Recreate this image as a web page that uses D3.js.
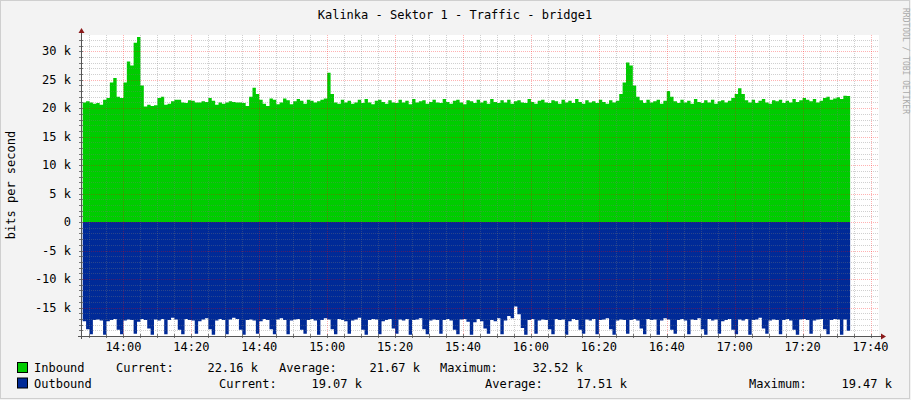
<!DOCTYPE html>
<html><head><meta charset="utf-8">
<script src="https://cdn.jsdelivr.net/npm/d3@7"></script>
<style>body{margin:0;background:#f3f3f3}text{font-family:"DejaVu Sans Mono",monospace;fill:#000}</style>
</head><body><svg width="911" height="400"></svg>
<script>
// one value per minute, starting 13:48, in k bits/s
const inbound = [
  21,21.2,21,20.8,20.9,20.6,21.5,21.8,24.5,25.3,
  22,21.8,24.5,28.2,27.5,31.5,32.5,24,20.3,20.6,
  20.4,20.5,21.8,22,20.6,20.8,21.2,21.5,21.5,21,
  20.9,21.4,21.3,21,21,21.2,21.1,21.8,21.3,20.6,
  21,20.8,21,21.2,21.1,21,21,20.9,20.4,22,
  23.6,22.5,21.5,20.8,20.4,21.7,21.5,20.7,21,21.7,
  21.4,20.7,21.2,21.6,21.3,20.8,21.5,21.3,21,21.2,
  21.5,21.7,26.2,22.5,21,20.8,21.5,21,21.3,20.8,
  21,21.5,20.9,21.6,21,20.7,21.3,21.5,21.1,20.8,
  21.4,21,20.9,21.5,21,21.3,20.7,21.6,21,21.2,
  21.4,20.8,21.1,21.5,21,20.9,21.6,21.1,20.8,21.3,
  21.5,21,20.7,21.4,21.2,20.9,21.5,21,21.3,20.8,
  21.6,21.1,20.9,21.4,21,21.5,20.8,21.2,21.4,21,
  20.9,21.6,21.1,20.8,21.3,21.5,21,20.9,21.4,21.2,
  20.8,21.5,21,21.3,20.9,21.6,21.1,20.8,21.4,21,
  21.2,20.9,21.5,21.1,20.8,21.4,21,21.3,22.5,24.5,
  28,27.5,24,22,21.4,20.9,21.5,21,21.2,21.5,
  20.8,21.3,23,22,21.2,20.9,21.5,21,21.3,20.8,
  21.6,21.1,20.9,21.4,21,21.5,20.8,21.2,21.4,21,
  21.3,21.8,22.5,23.5,22.5,21.4,21,21.5,20.9,21.3,
  21.6,21,20.8,21.4,21.2,21.5,20.9,21.3,21,21.6,
  21.1,21.4,21.8,21.5,21.2,21.6,21,21.3,21.8,22,
  21.5,21.7,21.9,21.6,22.2,22.16
];
const outbound = [
  -17.4,-18.8,-19.7,-17.2,-17.1,-17.3,-19.8,-17.4,-17.2,-17.0,
  -18.9,-19.7,-17.3,-17.1,-17.2,-19.6,-17.5,-17.0,-17.2,-18.7,
  -19.8,-17.1,-17.3,-17.0,-19.7,-17.2,-16.8,-17.1,-18.9,-19.7,
  -17.0,-17.2,-17.3,-19.6,-17.4,-17.1,-16.9,-18.8,-19.8,-17.3,
  -17.0,-17.2,-19.7,-17.1,-16.8,-17.0,-18.9,-19.8,-17.2,-17.1,
  -17.3,-19.6,-17.4,-17.0,-17.2,-18.8,-19.7,-17.1,-16.9,-17.2,
  -19.7,-17.3,-17.1,-17.0,-18.9,-19.6,-17.2,-17.0,-17.3,-19.8,
  -17.2,-16.9,-17.1,-18.8,-19.7,-17.0,-17.2,-17.4,-19.6,-17.3,
  -17.1,-16.8,-18.9,-19.8,-17.2,-17.0,-17.1,-19.7,-17.4,-17.2,
  -17.0,-18.7,-19.6,-17.1,-17.3,-17.0,-19.8,-17.2,-17.1,-16.9,
  -18.8,-19.7,-17.3,-17.1,-17.2,-19.6,-17.2,-17.0,-17.3,-18.9,
  -19.7,-17.1,-17.0,-17.5,-19.8,-17.6,-17.0,-17.4,-18.7,-19.6,
  -17.2,-17.4,-16.9,-19.7,-17.3,-16.5,-16.9,-14.8,-16.2,-18.6,
  -19.8,-17.2,-17.0,-19.6,-17.3,-17.1,-17.2,-18.8,-19.7,-17.0,
  -17.2,-17.1,-19.8,-17.4,-17.0,-17.2,-18.9,-19.6,-17.1,-17.3,
  -17.0,-19.7,-17.2,-17.1,-16.9,-18.8,-19.8,-17.3,-17.1,-17.2,
  -19.6,-17.2,-17.0,-17.3,-18.7,-19.7,-17.0,-17.2,-17.1,-19.8,
  -17.3,-16.9,-17.1,-18.9,-19.6,-17.2,-17.0,-17.3,-19.7,-17.1,
  -17.2,-16.9,-18.8,-19.8,-17.0,-17.3,-17.1,-19.6,-17.4,-17.2,
  -17.0,-18.9,-19.7,-17.1,-17.3,-17.0,-19.8,-17.2,-17.1,-16.8,
  -18.7,-19.6,-17.3,-17.1,-17.2,-19.7,-17.2,-17.0,-17.3,-18.9,
  -19.8,-17.1,-17.0,-17.2,-19.6,-17.3,-17.1,-17.0,-18.8,-19.7,
  -17.2,-17.0,-17.1,-19.8,-17.1,-19.07
];
const yTicks = [-15, -10, -5, 0, 5, 10, 15, 20, 25, 30];
const legendRows = [
  { name: 'Inbound', color: '#00cc00', cur: '22.16 k', avg: '21.67 k', max: '32.52 k' },
  { name: 'Outbound', color: '#002a97', cur: '19.07 k', avg: '17.51 k', max: '19.47 k' },
];

const svg = d3.select('svg');
const pL = 81, pR = 879, pT = 35, pB = 336;
const t0 = new Date(2020, 0, 1, 13, 47, 30);
const t1 = new Date(2020, 0, 1, 17, 42, 30);
const x = d3.scaleTime().domain([t0, t1]).range([pL, pR]);
const y = d3.scaleLinear().domain([-20, 32.85]).range([pB, pT]);
const timeAt = i => new Date(2020, 0, 1, 13, 48 + i);

svg.append('rect').attr('x', 0.5).attr('y', 0.5).attr('width', 909).attr('height', 398)
  .attr('fill', '#f3f3f3').attr('stroke', '#cfcfcf');
svg.append('rect').attr('x', pL).attr('y', pT).attr('width', pR - pL).attr('height', pB - pT).attr('fill', '#fff');

// areas
const area = d3.area().curve(d3.curveStepAfter)
  .x((d, i) => x(timeAt(i))).y0(y(0)).y1(d => y(d));
svg.append('clipPath').attr('id', 'c').append('rect')
  .attr('x', pL).attr('y', pT - 5).attr('width', pR - pL).attr('height', pB - pT + 5);
svg.append('path').datum(inbound.concat([inbound[inbound.length - 1]])).attr('d', area)
  .attr('fill', '#00cc00').attr('clip-path', 'url(#c)');
svg.append('path').datum(outbound.concat([outbound[outbound.length - 1]])).attr('d', area)
  .attr('fill', '#002a97').attr('clip-path', 'url(#c)');

// grid
const g = svg.append('g');
d3.range(-19, 33).forEach(v => {
  const major = v % 5 === 0;
  const yy = Math.round(y(v)) + 0.5;
  g.append('line').attr('x1', pL).attr('x2', pR).attr('y1', yy).attr('y2', yy)
    .attr('stroke', major ? 'rgba(255,0,0,0.3)' : 'rgba(120,120,120,0.35)').attr('stroke-dasharray', '1,1');
  g.append('line').attr('x1', pL - 2).attr('x2', pL + 2).attr('y1', yy).attr('y2', yy).attr('stroke', '#777');
});
x.ticks(d3.timeMinute.every(5)).forEach(t => {
  const major = t.getMinutes() % 20 === 0;
  const xx = Math.round(x(t)) + 0.5;
  g.append('line').attr('x1', xx).attr('x2', xx).attr('y1', pT).attr('y2', pB)
    .attr('stroke', major ? 'rgba(255,0,0,0.3)' : 'rgba(120,120,120,0.35)').attr('stroke-dasharray', '1,1');
  g.append('line').attr('x1', xx).attr('x2', xx).attr('y1', pB - 2).attr('y2', pB + 2).attr('stroke', '#777');
});

// axes
svg.append('line').attr('x1', pL + 0.5).attr('x2', pL + 0.5).attr('y1', pT - 4).attr('y2', pB + 3).attr('stroke', '#555');
svg.append('line').attr('x1', pL - 3).attr('x2', pR + 3).attr('y1', pB + 0.5).attr('y2', pB + 0.5).attr('stroke', '#555');
svg.append('path').attr('d', `M${pL - 2.5},${pT - 2}L${pL + 3.5},${pT - 2}L${pL + 0.5},${pT - 7}Z`).attr('fill', '#8b1a1a');
svg.append('path').attr('d', `M${pR + 2},${pB - 2.5}L${pR + 2},${pB + 3.5}L${pR + 7},${pB + 0.5}Z`).attr('fill', '#8b1a1a');

yTicks.forEach(v => {
  svg.append('text').attr('x', 71).attr('y', y(v) + 4).attr('text-anchor', 'end').attr('font-size', 12)
    .text(v === 0 ? '0' : `${v} k`);
});
x.ticks(d3.timeMinute.every(20)).forEach(t => {
  svg.append('text').attr('x', x(t)).attr('y', 351).attr('text-anchor', 'middle').attr('font-size', 12)
    .text(d3.timeFormat('%H:%M')(t));
});

svg.append('text').attr('x', 455).attr('y', 19).attr('text-anchor', 'middle').attr('font-size', 12)
  .text('Kalinka - Sektor 1 - Traffic - bridge1');
svg.append('text').attr('transform', 'translate(15,185) rotate(-90)').attr('text-anchor', 'middle').attr('font-size', 12)
  .text('bits per second');
svg.append('text').attr('transform', 'translate(903,8) rotate(90)').attr('font-size', 8).style('fill', '#aaa')
  .text('RRDTOOL / TOBI OETIKER');

// legend
const cols = [
  { cur: 116, curV: 258, avg: 279, avgV: 420, max: 440, maxV: 583 },
  { cur: 219, curV: 362, avg: 485, avgV: 627, max: 749, maxV: 892 },
];
legendRows.forEach((r, i) => {
  const yy = 372 + i * 15.5;
  const c = cols[i];
  svg.append('rect').attr('x', 17.5).attr('y', yy - 9.5).attr('width', 10).attr('height', 10)
    .attr('fill', r.color).attr('stroke', '#000');
  svg.append('text').attr('x', 34).attr('y', yy).attr('font-size', 12).text(r.name);
  svg.append('text').attr('x', c.cur).attr('y', yy).attr('font-size', 12).text('Current:');
  svg.append('text').attr('x', c.curV).attr('y', yy).attr('font-size', 12).attr('text-anchor', 'end').text(r.cur);
  svg.append('text').attr('x', c.avg).attr('y', yy).attr('font-size', 12).text('Average:');
  svg.append('text').attr('x', c.avgV).attr('y', yy).attr('font-size', 12).attr('text-anchor', 'end').text(r.avg);
  svg.append('text').attr('x', c.max).attr('y', yy).attr('font-size', 12).text('Maximum:');
  svg.append('text').attr('x', c.maxV).attr('y', yy).attr('font-size', 12).attr('text-anchor', 'end').text(r.max);
});
</script></body></html>
